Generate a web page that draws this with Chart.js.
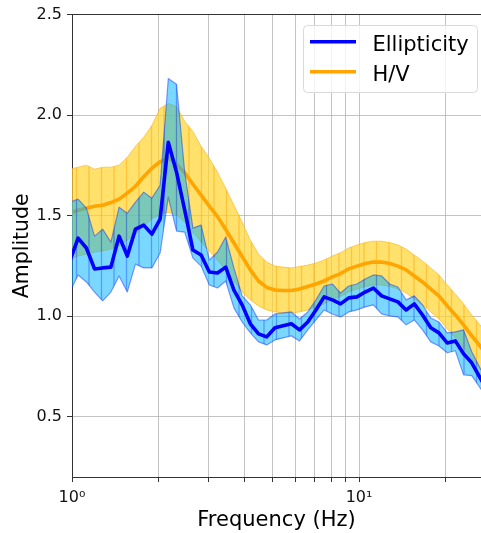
<!DOCTYPE html>
<html>
<head>
<meta charset="utf-8">
<script src="https://cdn.jsdelivr.net/npm/chart.js@4/dist/chart.umd.min.js"></script>
<style>
  html, body { margin: 0; padding: 0; background: #ffffff; }
  #wrap { width: 481px; height: 533px; }
</style>
</head>
<body>
<div id="wrap"><canvas id="c" width="481" height="533"></canvas></div>
<script>
// ---- data ----
const frequencies = [
  0.983, 1.050, 1.122, 1.198, 1.279, 1.366, 1.459, 1.558, 1.664, 1.778,
  1.898, 2.028, 2.165, 2.313, 2.470, 2.638, 2.817, 3.009, 3.214, 3.432,
  3.665, 3.915, 4.181, 4.465, 4.769, 5.093, 5.439, 5.809, 6.204, 6.626,
  7.077, 7.558, 8.072, 8.621, 9.207, 9.833, 10.50, 11.22, 11.98, 12.79,
  13.66, 14.59, 15.58, 16.64, 17.78, 18.98, 20.28, 21.65, 23.13, 24.70,
  26.38, 28.17
];
const ellipticityMean = [
  1.274, 1.388, 1.339, 1.235, 1.240, 1.244, 1.398, 1.299, 1.433, 1.453,
  1.408, 1.483, 1.865, 1.716, 1.527, 1.329, 1.304, 1.220, 1.215, 1.244,
  1.130, 1.056, 0.962, 0.912, 0.897, 0.942, 0.952, 0.962, 0.932, 0.971,
  1.031, 1.096, 1.081, 1.061, 1.091, 1.096, 1.120, 1.140, 1.101, 1.086,
  1.071, 1.031, 1.061, 1.006, 0.942, 0.917, 0.867, 0.877, 0.813, 0.768,
  0.694, 0.624
];
const ellipticityUpper = [
  1.567, 1.582, 1.537, 1.398, 1.433, 1.368, 1.542, 1.512, 1.567, 1.617,
  1.587, 1.651, 2.182, 2.153, 1.716, 1.438, 1.453, 1.279, 1.319, 1.393,
  1.240, 1.101, 1.056, 0.981, 0.981, 1.011, 1.016, 1.021, 0.986, 1.021,
  1.081, 1.150, 1.160, 1.115, 1.150, 1.160, 1.185, 1.205, 1.200, 1.160,
  1.145, 1.081, 1.101, 1.056, 0.991, 0.971, 0.917, 0.922, 0.932, 0.823,
  0.743, 0.669
];
const ellipticityLower = [
  1.120, 1.205, 1.170, 1.120, 1.076, 1.120, 1.200, 1.120, 1.259, 1.240,
  1.240, 1.314, 1.592, 1.423, 1.418, 1.289, 1.249, 1.155, 1.140, 1.175,
  1.041, 0.971, 0.917, 0.872, 0.857, 0.882, 0.892, 0.902, 0.877, 0.932,
  0.981, 1.031, 1.011, 0.996, 1.021, 1.031, 1.046, 1.056, 1.011, 1.001,
  0.996, 0.957, 0.981, 0.932, 0.872, 0.852, 0.818, 0.828, 0.708, 0.704,
  0.644, 0.584
];
const hvMean = [
  1.512, 1.527, 1.537, 1.547, 1.552, 1.565, 1.582, 1.612, 1.646, 1.694,
  1.736, 1.768, 1.788, 1.756, 1.713, 1.656, 1.602, 1.547, 1.495, 1.431,
  1.364, 1.297, 1.230, 1.175, 1.143, 1.130, 1.128, 1.128, 1.135, 1.148,
  1.160, 1.175, 1.195, 1.212, 1.235, 1.249, 1.262, 1.269, 1.269, 1.262,
  1.249, 1.230, 1.200, 1.170, 1.135, 1.101, 1.051, 1.006, 0.957, 0.902,
  0.852, 0.798
];
const hvUpper = [
  1.731, 1.741, 1.751, 1.731, 1.741, 1.741, 1.751, 1.790, 1.845, 1.890,
  1.949, 2.034, 2.058, 2.043, 1.969, 1.919, 1.845, 1.785, 1.716, 1.636,
  1.552, 1.468, 1.378, 1.309, 1.269, 1.249, 1.244, 1.240, 1.247, 1.254,
  1.264, 1.279, 1.299, 1.316, 1.339, 1.354, 1.366, 1.373, 1.373, 1.366,
  1.354, 1.334, 1.304, 1.274, 1.240, 1.205, 1.155, 1.110, 1.061, 1.006,
  0.957, 0.902
];
const hvLower = [
  1.284, 1.299, 1.309, 1.319, 1.324, 1.334, 1.349, 1.378, 1.408, 1.448,
  1.483, 1.507, 1.517, 1.503, 1.468, 1.418, 1.368, 1.324, 1.279, 1.230,
  1.175, 1.120, 1.081, 1.051, 1.031, 1.021, 1.016, 1.016, 1.021, 1.031,
  1.046, 1.061, 1.081, 1.098, 1.120, 1.135, 1.148, 1.155, 1.155, 1.148,
  1.135, 1.115, 1.086, 1.056, 1.021, 0.986, 0.937, 0.892, 0.842, 0.788,
  0.738, 0.684
];
const seriesNames = ['Ellipticity', 'H/V'];
const xTickValues = [1, 2, 3, 4, 5, 6, 7, 8, 9, 10, 20];
const xTickLabels = {1: '10\u2070', 10: '10\u00B9'};
const yTickValues = [0.5, 1.0, 1.5, 2.0, 2.5];
const yTickLabels = ['0.5', '1.0', '1.5', '2.0', '2.5'];
const xLimits = [1, 26.6];
const yLimits = [0.2, 2.5];

// ---- styling helpers ----
const FONT = "'DejaVu Sans', 'Liberation Sans', sans-serif";
function hatchPattern(fill, line) {
  const t = document.createElement('canvas');
  t.width = 25; t.height = 25;
  const g = t.getContext('2d');
  g.fillStyle = fill; g.fillRect(0, 0, 25, 25);
  g.fillStyle = line;
  g.fillRect(0.85, 0, 1.3, 25);
  g.fillRect(13.35, 0, 1.3, 25);
  return g.createPattern(t, 'repeat');
}
const ctx = document.getElementById('c').getContext('2d');
const yellowFill = hatchPattern('rgba(255,212,45,0.7)', 'rgba(255,160,0,0.45)');
const blueFill = hatchPattern('rgba(0,178,255,0.52)', 'rgba(0,40,255,0.35)');

const pts = arr => frequencies.map((f, i) => ({x: f, y: arr[i]}));

const datasets = [
  { label: 'hvUpper', data: pts(hvUpper), fill: {target: 1}, backgroundColor: yellowFill,
    borderColor: 'rgba(255,170,0,0.55)', borderWidth: 1, order: 6 },
  { label: 'hvLower', data: pts(hvLower), fill: false,
    borderColor: 'rgba(255,170,0,0.55)', borderWidth: 1, order: 5 },
  { label: seriesNames[1], data: pts(hvMean), fill: false,
    borderColor: '#ffa500', borderWidth: 3.6, order: 4 },
  { label: 'ellUpper', data: pts(ellipticityUpper), fill: {target: 4}, backgroundColor: blueFill,
    borderColor: 'rgba(0,40,255,0.45)', borderWidth: 1.2, order: 3 },
  { label: 'ellLower', data: pts(ellipticityLower), fill: false,
    borderColor: 'rgba(0,40,255,0.45)', borderWidth: 1.2, order: 2 },
  { label: seriesNames[0], data: pts(ellipticityMean), fill: false,
    borderColor: '#0000ff', borderWidth: 3.6, order: 1 }
];
datasets.forEach(d => {
  d.pointRadius = 0; d.tension = 0; d.clip = 0;
  d.borderJoinStyle = 'round'; d.borderCapStyle = 'butt';
});

const legendBox = {
  id: 'legendBox',
  afterDraw(chart) {
    const c = chart.ctx;
    const entries = [
      {name: seriesNames[0], color: chart.data.datasets[5].borderColor},
      {name: seriesNames[1], color: chart.data.datasets[2].borderColor}
    ];
    c.save();
    const x = 303.5, y = 25.5, w = 174, h = 67, r = 4;
    c.beginPath();
    c.moveTo(x + r, y); c.lineTo(x + w - r, y); c.quadraticCurveTo(x + w, y, x + w, y + r);
    c.lineTo(x + w, y + h - r); c.quadraticCurveTo(x + w, y + h, x + w - r, y + h);
    c.lineTo(x + r, y + h); c.quadraticCurveTo(x, y + h, x, y + h - r);
    c.lineTo(x, y + r); c.quadraticCurveTo(x, y, x + r, y); c.closePath();
    c.fillStyle = 'rgba(255,255,255,0.8)'; c.fill();
    c.strokeStyle = '#d9d9d9'; c.lineWidth = 1; c.stroke();
    entries.forEach((e, i) => {
      const ly = 41.7 + i * 30;
      c.beginPath(); c.moveTo(310, ly); c.lineTo(356, ly);
      c.strokeStyle = e.color; c.lineWidth = 3.6; c.stroke();
      c.fillStyle = '#000'; c.font = '21px ' + FONT;
      c.textBaseline = 'alphabetic'; c.textAlign = 'left';
      c.fillText(e.name, 372.5, ly + 9);
    });
    c.restore();
  }
};

new Chart(ctx, {
  type: 'line',
  data: { datasets },
  plugins: [legendBox],
  options: {
    responsive: false, animation: false, devicePixelRatio: 1,
    layout: { padding: { top: 14, left: 0, right: 0, bottom: 0 } },
    plugins: {
      legend: { display: false }, tooltip: { enabled: false },
      filler: { drawTime: 'beforeDatasetDraw', propagate: false }
    },
    scales: {
      x: {
        type: 'logarithmic', min: xLimits[0], max: xLimits[1],
        afterBuildTicks: s => { s.ticks = xTickValues.map(v => ({value: v})); },
        afterFit: s => { s.height = 56; },
        ticks: {
          autoSkip: false, maxRotation: 0, padding: 6, color: '#111',
          font: { family: FONT, size: 16 },
          callback: v => xTickLabels[v] || ''
        },
        grid: { color: 'rgba(176,176,176,0.75)', lineWidth: 1, tickColor: '#333', tickLength: 5 },
        border: { color: '#333', width: 1 },
        title: { display: true, text: 'Frequency (Hz)', color: '#000',
          font: { family: FONT, size: 21 }, padding: { top: 0, bottom: 0 } }
      },
      y: {
        type: 'linear', min: yLimits[0], max: yLimits[1],
        afterBuildTicks: s => { s.ticks = yTickValues.map(v => ({value: v})); },
        afterFit: s => { s.width = 72; },
        ticks: {
          padding: 5, color: '#111', font: { family: FONT, size: 16 },
          callback: v => yTickLabels[yTickValues.indexOf(v)] ?? ''
        },
        grid: {
          color: c => (c.tick && c.tick.value === 2.5) ? '#333' : 'rgba(176,176,176,0.75)',
          lineWidth: 1, tickColor: '#333', tickLength: 5
        },
        border: { color: '#333', width: 1 },
        title: { display: true, text: 'Amplitude', color: '#000',
          font: { family: FONT, size: 20.5 }, padding: { top: 10, bottom: 0 } }
      }
    }
  }
});
</script>
</body>
</html>
